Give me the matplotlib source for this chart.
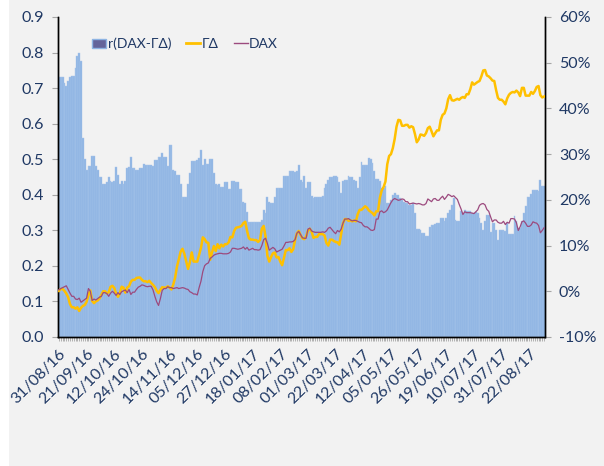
import matplotlib
matplotlib.use("Agg")
import matplotlib.pyplot as plt
from matplotlib.patches import Patch, Rectangle
from matplotlib.lines import Line2D
from matplotlib.ticker import FuncFormatter

# r(DAX-ΓΔ), one bar per trading day (left axis)
corr = [
    0.73, 0.73, 0.73, 0.715, 0.705, 0.72, 0.732, 0.735, 0.735, 0.757, 0.79,
    0.798, 0.775, 0.56, 0.50, 0.47, 0.48, 0.48, 0.51, 0.51, 0.48,
    0.47, 0.45, 0.45, 0.43, 0.43, 0.435, 0.45, 0.44, 0.435, 0.44, 0.478,
    0.455, 0.43, 0.44, 0.43, 0.44, 0.475, 0.477, 0.505, 0.475, 0.475, 0.47,
    0.47, 0.475, 0.475, 0.487, 0.485, 0.485, 0.485, 0.485, 0.48, 0.498,
    0.498, 0.507, 0.507, 0.518, 0.507, 0.507, 0.48, 0.54, 0.54, 0.47, 0.468,
    0.457, 0.457, 0.43, 0.395, 0.394, 0.394, 0.43, 0.46, 0.496, 0.496, 0.496,
    0.498, 0.503, 0.526, 0.485, 0.50, 0.487, 0.487, 0.50, 0.50, 0.46,
    0.43, 0.428, 0.43, 0.423, 0.423, 0.435, 0.435, 0.416, 0.416, 0.44, 0.44,
    0.435, 0.435, 0.416, 0.416, 0.381, 0.376, 0.352, 0.324, 0.324, 0.324,
    0.324, 0.324, 0.324, 0.324, 0.33, 0.357, 0.35, 0.395, 0.38, 0.378, 0.378,
    0.395, 0.418, 0.42, 0.42, 0.42, 0.453, 0.452, 0.452, 0.467, 0.468, 0.468,
    0.465, 0.468, 0.484, 0.442, 0.435, 0.453, 0.42, 0.437, 0.437, 0.397,
    0.39, 0.395, 0.395, 0.395, 0.395, 0.397, 0.418, 0.43, 0.442, 0.45, 0.45,
    0.452, 0.452, 0.45, 0.437, 0.404, 0.44, 0.442, 0.442, 0.453, 0.45, 0.45,
    0.442, 0.44, 0.42, 0.45, 0.493, 0.484, 0.484, 0.484, 0.503, 0.50,
    0.49, 0.467, 0.445, 0.445, 0.44, 0.42, 0.42, 0.425, 0.376, 0.376, 0.386,
    0.398, 0.404, 0.398, 0.398, 0.39, 0.385, 0.38, 0.376, 0.376, 0.372, 0.37,
    0.376, 0.348, 0.305, 0.303, 0.30, 0.292, 0.292, 0.283, 0.285, 0.31,
    0.315, 0.315, 0.317, 0.32, 0.32, 0.334, 0.336, 0.327, 0.335, 0.348, 0.357,
    0.37, 0.39, 0.33, 0.327, 0.325, 0.355, 0.345, 0.357, 0.355, 0.355, 0.355,
    0.35, 0.35, 0.352, 0.35, 0.335, 0.322, 0.30, 0.327, 0.343, 0.343,
    0.295, 0.322, 0.32, 0.30, 0.273, 0.30, 0.30, 0.30, 0.298, 0.322, 0.29,
    0.29, 0.29, 0.34, 0.325, 0.307, 0.307, 0.325, 0.35, 0.368, 0.395, 0.395,
    0.402, 0.413, 0.413, 0.413, 0.41, 0.442, 0.424, 0.424,
]

# ΓΔ cumulative return, % (right axis)
gamma_delta = [
    0.1, 0.5, 0.5, 0.1, -0.5, -1.3, -2.8, -3.5, -3.5, -3.8, -3.5,
    -4.3, -3.6, -3.2, -3.0, -2.3, -0.8, 0.2, -2.1, -2.6, -2.2,
    -2.0, -1.6, -0.8, 0.0, 0.0, -0.5, -0.2, 1.0, 1.2, 0.7, -0.5,
    -1.2, -0.5, 1.0, 0.8, -0.3, 0.8, 1.1, 2.1, 2.5, 2.5, 2.9,
    3.0, 3.0, 2.5, 2.2, 2.2, 2.0, 2.3, 1.8, 1.4, 0.9,
    0.1, -0.4, 0.3, 0.9, 0.8, 0.8, 1.1, 0.8, 0.4, 1.5, 3.0,
    5.4, 7.0, 8.7, 9.3, 8.2, 6.5, 4.9, 6.4, 8.5, 6.5, 6.5,
    6.5, 8.0, 9.5, 11.8, 11.4, 10.7, 10.6, 6.9, 8.5, 9.9,
    8.8, 10.3, 9.4, 10.2, 9.8, 10.3, 10.3, 10.7, 11.9, 11.8, 13.2,
    13.9, 14.0, 14.1, 14.3, 14.9, 15.2, 13.2, 11.6, 11.3, 11.3,
    11.2, 11.2, 10.8, 11.2, 13.7, 14.3, 12.0, 7.8, 6.5, 7.5, 8.3,
    8.5, 7.4, 7.5, 6.5, 5.7, 7.4, 9.0, 9.0, 9.4, 8.6, 9.2,
    11.2, 12.7, 13.2, 12.3, 11.6, 11.4, 12.0, 13.3, 13.7, 13.0,
    11.7, 11.9, 11.9, 12.5, 12.5, 12.5, 12.2, 10.6, 10.0, 11.3, 11.3,
    11.0, 10.8, 10.7, 10.2, 12.5, 14.9, 15.8, 15.8, 15.4, 15.5, 15.3,
    15.5, 15.3, 16.9, 17.8, 17.8, 18.2, 18.6, 18.3, 17.7, 17.4,
    17.1, 16.6, 17.5, 17.5, 20.5, 22.1, 22.8, 24.0, 27.8, 29.6, 30.0,
    31.3, 33.3, 36.0, 37.5, 37.4, 36.2, 36.2, 36.4, 36.4, 35.8, 36.1,
    35.9, 34.4, 32.6, 33.2, 34.3, 34.2, 34.0, 34.6, 35.7, 36.0,
    35.0, 33.9, 34.6, 35.2, 35.2, 37.5, 38.6, 38.9, 40.0, 42.0, 42.9,
    41.8, 41.7, 41.9, 42.1, 41.9, 42.3, 42.5, 42.3, 43.1, 43.1, 44.2,
    45.7, 45.2, 45.5, 45.8, 46.0, 47.0, 48.3, 48.4, 47.2, 47.0,
    46.6, 46.1, 46.0, 44.0, 42.3, 41.9, 41.9, 41.5, 40.9, 42.2, 43.0,
    43.4, 43.6, 43.5, 43.9, 43.5, 42.7, 44.5, 44.5, 42.8, 42.8, 42.8,
    43.6, 43.2, 43.8, 44.7, 44.9, 42.9, 42.4, 42.6,
]

# DAX cumulative return, % (right axis)
dax = [
    0.3, 0.6, 0.8, 1.0, 1.2, 0.4, -0.4, -1.1, -1.1, -1.7, -1.8,
    -1.5, -2.4, -2.1, -1.8, -1.5, 0.6, 0.0, -2.0, -1.7, -1.9,
    -1.6, -1.3, -1.1, -0.3, -0.3, -0.5, -1.1, -0.4, 0.0, -0.4, -0.9,
    -0.3, -0.7, -0.1, 0.1, 0.3, -0.3, 0.4, -0.7, -0.2, -0.2, 0.4,
    0.9, 1.1, 1.4, 1.3, 1.1, 1.0, 1.1, 1.1, 0.3, -1.1,
    -2.3, -3.1, -1.6, 0.2, 0.6, 0.6, 1.0, 0.8, 0.8, 0.6, 0.7,
    0.8, 0.6, 0.7, 0.8, 0.7, 0.5, 0.4, -0.1, -0.3, -0.6, -0.6,
    -0.8, 0.8, 2.2, 4.3, 5.6, 6.0, 6.2, 7.2, 7.5, 7.9,
    8.1, 8.2, 8.3, 8.3, 8.2, 8.2, 8.2, 8.3, 8.6, 9.4, 9.4,
    9.3, 9.2, 9.3, 9.4, 9.7, 9.2, 9.6, 9.0, 9.2, 9.4,
    9.1, 9.1, 9.0, 9.1, 10.0, 11.3, 11.6, 10.5, 9.0, 9.3, 9.6,
    9.3, 8.6, 8.8, 9.0, 9.2, 9.9, 10.7, 10.7, 10.8, 10.8, 10.9,
    11.3, 12.7, 13.1, 12.4, 11.7, 11.6, 11.6, 13.6, 13.8, 13.2,
    13.0, 12.9, 12.9, 12.9, 12.9, 13.0, 12.9, 13.2, 13.8, 14.0, 13.5,
    13.0, 12.6, 13.3, 13.0, 13.6, 14.9, 15.8, 15.8, 15.9, 15.6, 15.4,
    15.5, 15.5, 15.3, 15.1, 15.0, 14.4, 14.1, 14.1, 13.8, 13.4,
    13.3, 13.5, 15.8, 15.8, 17.4, 17.6, 17.2, 17.4, 17.8, 18.6, 19.4,
    20.0, 20.3, 20.1, 19.9, 20.0, 20.2, 20.1, 19.6, 19.6, 19.1, 19.2,
    19.3, 19.2, 19.1, 19.2, 19.1, 18.9, 18.9, 19.2, 20.2, 19.9,
    19.6, 20.2, 20.3, 19.9, 19.9, 20.4, 20.8, 20.1, 20.6, 21.2, 21.0,
    20.7, 20.9, 20.5, 20.1, 19.0, 18.0, 16.8, 17.4, 17.2, 17.2, 17.2,
    17.1, 17.0, 17.4, 17.8, 18.8, 19.1, 19.2, 18.9, 17.9, 17.5,
    16.3, 15.2, 15.6, 15.6, 15.1, 14.9, 14.9, 15.3, 14.6, 15.1, 14.9,
    15.9, 15.9, 15.8, 15.0, 13.3, 14.1, 15.2, 15.4, 14.9, 14.2, 14.2,
    14.5, 15.2, 15.0, 14.9, 14.4, 12.8, 13.3, 13.9,
]

# every 15th trading day gets a label
date_labels = [
    "31/08/16", "21/09/16", "12/10/16", "24/10/16", "14/11/16", "05/12/16",
    "27/12/16", "18/01/17", "08/02/17", "01/03/17", "22/03/17", "12/04/17",
    "05/05/17", "26/05/17", "19/06/17", "10/07/17", "31/07/17", "22/08/17",
]
label_step = 15

navy = "#1f3864"
bg = "#f2f2f2"
bar_col = "#8eb4e3"
yellow = "#ffc000"
purple = "#9c4a7e"

plt.rcParams["font.family"] = ["Lato", "DejaVu Sans"]

fig = plt.figure(figsize=(6.04, 4.66), dpi=100)
fig.patch.set_facecolor(bg)
fig.patches.append(Rectangle((0, 0), 9 / 604, 1, transform=fig.transFigure,
                             facecolor="white", edgecolor="none", zorder=-1))

ax = fig.add_axes([58 / 604, 1 - 337 / 466, 487 / 604, 320 / 466])
ax.set_facecolor(bg)
n = len(corr)
x = list(range(n))
ax.bar(x, corr, width=1.0, color=bar_col, edgecolor="#a9c6ea", linewidth=0.3)
ax.set_xlim(-0.5, n - 0.5)
ax.set_ylim(0, 0.9)
ax.set_yticks([i / 10 for i in range(10)])
ax.yaxis.set_major_formatter(FuncFormatter(lambda v, p: f"{v:.1f}"))

ticks = [i * label_step for i in range(len(date_labels))]
ax.set_xticks(ticks)
ax.set_xticklabels(date_labels, rotation=45, ha="right", rotation_mode="anchor")
ax.set_xticks(x, minor=True)
ax.tick_params(axis="x", which="both", length=3, color="#a6a6a6", width=0.6,
               labelsize=11.5, labelcolor=navy, pad=4)
ax.tick_params(axis="y", length=4, color="#a6a6a6", labelsize=11.5, labelcolor=navy, pad=6)

ax2 = ax.twinx()
ax2.plot(x, gamma_delta, color=yellow, lw=1.8, zorder=3)
ax2.plot(x, dax, color=purple, lw=0.9, zorder=4)
ax2.set_ylim(-10, 60)
ax2.set_yticks(range(-10, 61, 10))
ax2.yaxis.set_major_formatter(FuncFormatter(lambda v, p: f"{v:.0f}%"))
ax2.tick_params(axis="y", length=4, color="#a6a6a6", labelsize=11.5, labelcolor=navy, pad=6)

for a in (ax, ax2):
    a.spines["top"].set_visible(False)
    for s in ("left", "right", "bottom"):
        a.spines[s].set_color("black")
        a.spines[s].set_linewidth(1.0)

handles = [
    Patch(facecolor="#64649a", edgecolor="#8eb4e3", linewidth=1.0),
    Line2D([], [], color=yellow, lw=2),
    Line2D([], [], color=purple, lw=1),
]
leg = ax2.legend(handles, ["r(DAX-ΓΔ)", "ΓΔ", "DAX"], loc="upper left",
                 bbox_to_anchor=(0.045, 0.975), ncol=3, frameon=False,
                 fontsize=10, handlelength=1.0, handleheight=0.6,
                 handletextpad=0.1, columnspacing=1.1)
for t in leg.get_texts():
    t.set_color(navy)

fig.savefig("out.png", dpi=100, facecolor=fig.get_facecolor())
